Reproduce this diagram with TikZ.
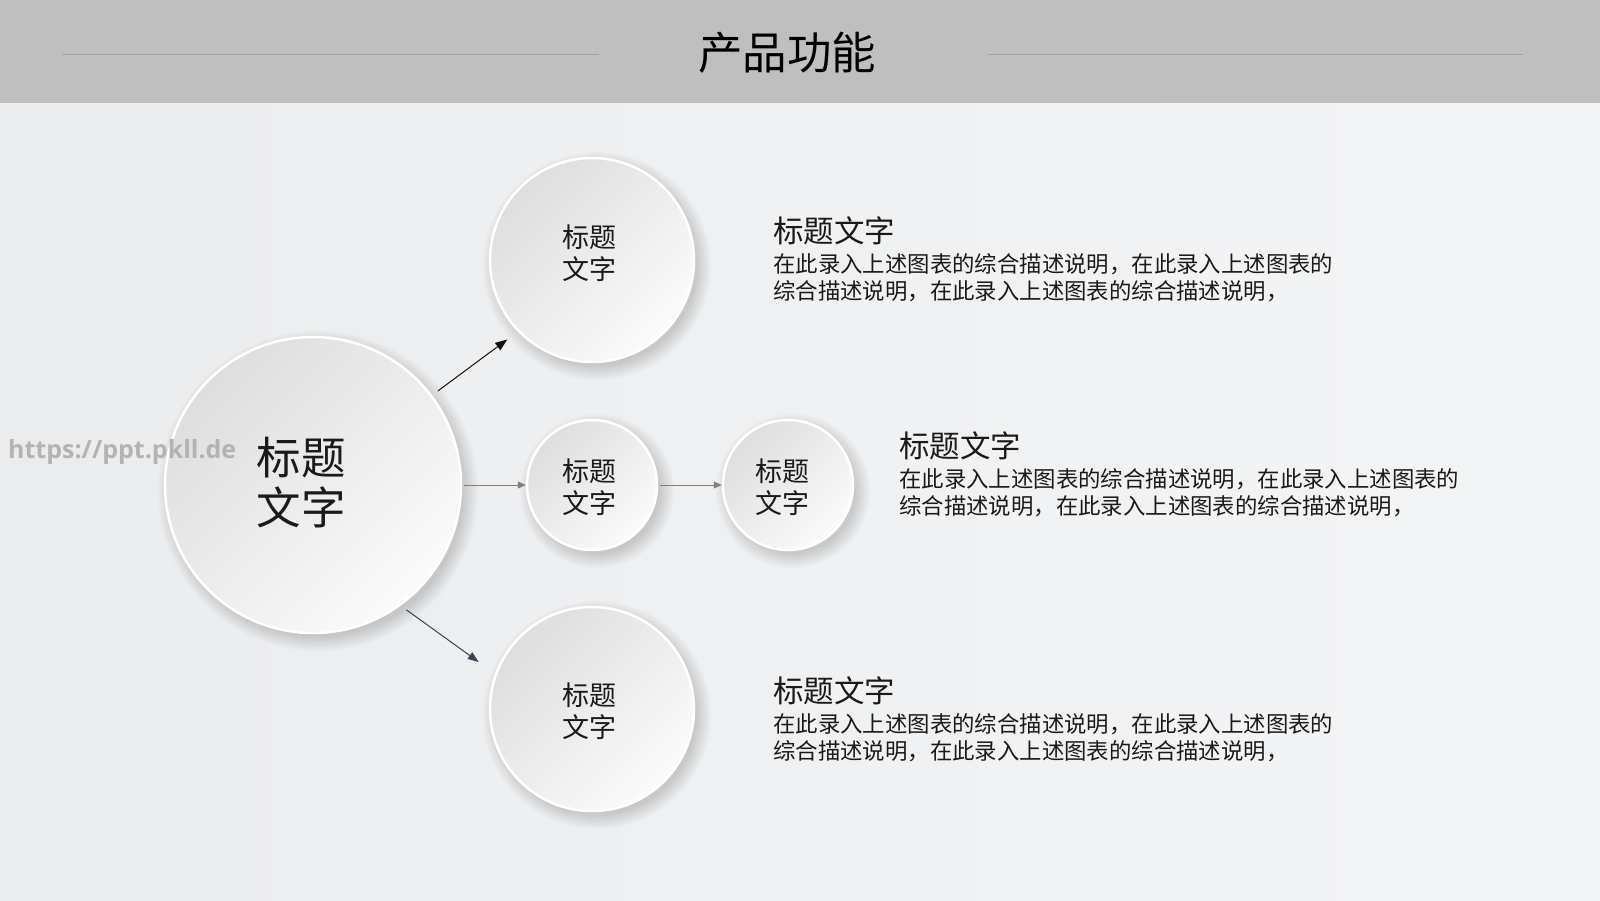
\documentclass[tikz,border=0pt]{standalone}
\usepackage{fontspec}
\setmainfont{Noto Sans CJK SC}
\newfontfamily\wmfont{Open Sans}
\usetikzlibrary{arrows.meta}
\definecolor{bgL}{HTML}{EBECED}
\definecolor{bgR}{HTML}{F4F5F6}
\definecolor{band}{HTML}{BFBFBF}
\definecolor{bandline}{HTML}{A3A3A3}
\definecolor{ballA}{HTML}{DEDEDF}
\definecolor{ballB}{HTML}{FBFBFB}
\definecolor{arrA}{HTML}{111111}
\definecolor{arrB}{HTML}{7F7F7F}
\definecolor{arrC}{HTML}{3B4257}
\definecolor{txt}{HTML}{1A1A1A}
\definecolor{wm}{HTML}{B3B3B3}
\tikzset{
  ballnode/.style={circle, minimum size=#1, inner sep=0pt, draw=white, line width=2.5pt,
    top color=ballA, bottom color=ballB, shading angle=45},
  smalllbl/.style={text=txt, align=center, inner sep=0pt, font=\fontsize{27}{31.5}\selectfont},
  biglbl/.style={text=txt, align=center, inner sep=0pt, font=\fontsize{44.5}{50}\selectfont},
  ttl/.style={anchor=base west, inner sep=0pt, text=txt, font=\fontsize{30.5}{34}\selectfont},
  body/.style={anchor=base west, inner sep=0pt, text=txt, align=left, font=\fontsize{22.4}{27}\selectfont},
  arrowA/.style={draw=arrA, line width=1pt, -{Triangle[length=12pt,width=9pt]}},
  arrowB/.style={draw=arrB, line width=1pt, -{Triangle[length=8pt,width=7pt]}},
  arrowC/.style={draw=arrC, line width=1pt, -{Triangle[length=11pt,width=8pt]}},
}
\newcommand{\ballshadow}[3]{%
  \foreach \k in {0,2,...,14}{%
    \fill[black, opacity=0.02] (#1+5,#2+6) circle[radius=#3+12-\k];
  }%
}
\begin{document}
\begin{tikzpicture}[x=1pt,y=-1pt]
\useasboundingbox (0,0) rectangle (1600,900);
% background
\shade[left color=bgL, right color=bgR] (0,0) rectangle (1600,900);
% header band
\fill[band] (0,0) rectangle (1600,103);
\draw[bandline, line width=0.8pt] (62,54) -- (599,54);
\draw[bandline, line width=0.8pt] (988,54) -- (1523,54);
\node[text=black, font=\fontsize{44.5}{48}\selectfont] (title) at (787,53) {产品功能};
% shadows
\ballshadow{313}{485}{148}
\ballshadow{592}{260}{102}
\ballshadow{592}{485}{65}
\ballshadow{788}{485}{65}
\ballshadow{592}{709}{102}
% circles
\node[ballnode=296pt] (big) at (313,485) {};
\node[ballnode=204pt] (t) at (592,260) {};
\node[ballnode=130pt] (m1) at (592,485) {};
\node[ballnode=130pt] (m2) at (788,485) {};
\node[ballnode=204pt] (b) at (592,709) {};
% circle labels
\node[biglbl] (bigl) at ([xshift=-12pt,yshift=2pt]big.center) {标题\\文字};
\node[smalllbl] (tl) at ([xshift=-3pt,yshift=7pt]t.center) {标题\\文字};
\node[smalllbl] (m1l) at ([xshift=-3pt,yshift=-2pt]m1.center) {标题\\文字};
\node[smalllbl] (m2l) at ([xshift=-6pt,yshift=-2pt]m2.center) {标题\\文字};
\node[smalllbl] (bl) at ([xshift=-3pt,yshift=-2pt]b.center) {标题\\文字};
% arrows
\draw[arrowA, shorten <=7pt, shorten >=13pt] (big.37) -- (t.224);
\draw[arrowB, shorten <=2pt] (big.east) -- (m1.west);
\draw[arrowB, shorten <=2pt] (m1.east) -- (m2.west);
\draw[arrowC, shorten <=7pt, shorten >=20pt] (big.-54) -- (b.160);
% text blocks
\node[ttl] (t1) at (773,242) {标题文字};
\node[body] (d1) at (773,299) {在此录入上述图表的综合描述说明，在此录入上述图表的\\综合描述说明，在此录入上述图表的综合描述说明，};
\node[ttl] (t2) at (899,457) {标题文字};
\node[body] (d2) at (899,514) {在此录入上述图表的综合描述说明，在此录入上述图表的\\综合描述说明，在此录入上述图表的综合描述说明，};
\node[ttl] (t3) at (773,702) {标题文字};
\node[body] (d3) at (773,759) {在此录入上述图表的综合描述说明，在此录入上述图表的\\综合描述说明，在此录入上述图表的综合描述说明，};
% watermark (on top)
\node[anchor=west, inner sep=0pt, text=wm, font=\wmfont\bfseries\fontsize{25}{28}\selectfont] (wm) at (8,452) {https://ppt.pkll.de};
\end{tikzpicture}
\end{document}
